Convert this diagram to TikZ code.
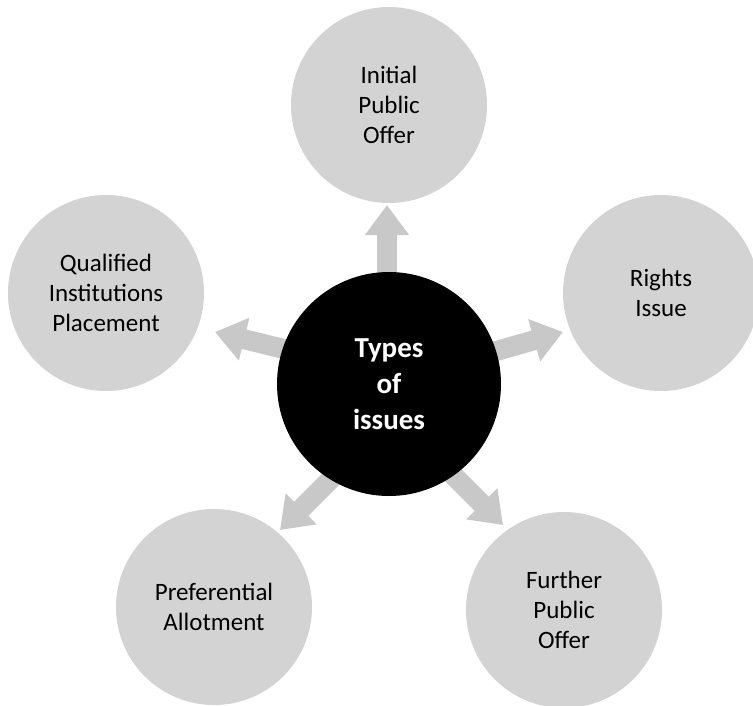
\documentclass[tikz,border=0pt]{standalone}
\usepackage{fontspec}
\setmainfont{Carlito}
\usetikzlibrary{arrows.meta}
\definecolor{circgray}{RGB}{211,211,211}
\definecolor{arrgray}{RGB}{200,200,200}
\begin{document}
\begin{tikzpicture}[x=1pt,y=-1pt,
  outer/.style={circle, fill=circgray, minimum size=196pt, inner sep=0pt, align=center,
    font=\fontsize{25}{30}\selectfont, text=black},
  hub/.style={circle, fill=black, minimum size=224pt, inner sep=0pt, align=center,
    font=\fontsize{29}{36}\selectfont\bfseries, text=white},
  arr/.style={draw=arrgray, line width=20pt, -{Triangle[width=42pt,length=30pt]}}]
\useasboundingbox (0,0) rectangle (753,705);
% outer circles
\node[outer] (ipo) at (389,105) {Initial\\Public\\Offer};
\node[outer] (ri) at (661,293) {Rights\\Issue};
\node[outer] (qip) at (106,293) {Qualified\\Institutions\\Placement};
\node[outer] (pa) at (214,607) {Preferential\\Allotment};
\node[outer] (fpo) at (564,610) {Further\\Public\\Offer};
% arrow ends
\coordinate (sT) at (387,330);  \coordinate (tT) at (387,205);
\coordinate (sR) at (419,373);  \coordinate (tR) at (563,332);
\coordinate (sL) at (361,368);  \coordinate (tL) at (215,332);
\coordinate (sBL) at (372,438); \coordinate (tBL) at (280,530);
\coordinate (sBR) at (411,433); \coordinate (tBR) at (503,525);
\draw[arr] (sT) -- (tT);
\draw[arr] (sR) -- (tR);
\draw[arr] (sL) -- (tL);
\draw[arr] (sBL) -- (tBL);
\draw[arr] (sBR) -- (tBR);
% hub
\node[hub] (hub) at (389,384) {Types\\of\\issues};
\end{tikzpicture}
\end{document}
